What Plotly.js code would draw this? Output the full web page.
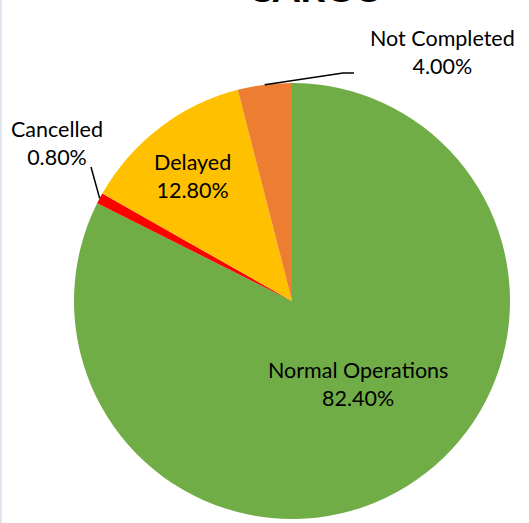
<!DOCTYPE html>
<html>
<head>
<meta charset="utf-8">
<script src="https://cdn.plot.ly/plotly-3.0.1.min.js"></script>
<style>html,body{margin:0;padding:0;background:#fff;}#chart{width:529px;height:523px;}</style>
</head>
<body>
<div id="chart"></div>
<script>
var chartTitle = "CARGO";
var categories = ["Normal Operations", "Cancelled", "Delayed", "Not Completed"];
var values = [82.4, 0.8, 12.8, 4.0];
var colors = ["#70AD47", "#FF0000", "#FFC000", "#ED7D31"];
var pctLabels = ["82.40%", "0.80%", "12.80%", "4.00%"];

var W = 529, H = 523;
var cx = 292, cy = 301, R = 218;
var FONT = "Lato, 'Open Sans', sans-serif";

function px(x){ return x / W; }
function py(y){ return 1 - y / H; }

// compute slice mid-angles (clockwise from 12 o'clock) from data
var total = values.reduce(function(a,b){return a+b;},0);
var mids = [], acc = 0;
values.forEach(function(v){ mids.push((acc + v/2)/total*2*Math.PI); acc += v; });
function edge(i, rr){ return [cx + rr*Math.sin(mids[i]), cy - rr*Math.cos(mids[i])]; }

var trace = {
  type: "pie",
  labels: categories,
  values: values,
  sort: false,
  direction: "clockwise",
  rotation: 0,
  marker: {colors: colors, line: {width: 0}},
  textinfo: "none",
  hoverinfo: "label+percent",
  showlegend: false,
  domain: {x: [px(cx-R), px(cx+R)], y: [py(cy+R), py(cy-R)]}
};

// label positions (text centres)
var labelPos = {
  0: [358, 384],
  1: [57, 143],
  2: [192, 176],
  3: [442, 52]
};
var annotations = [];
Object.keys(labelPos).forEach(function(k){
  var p = labelPos[k];
  annotations.push({
    xref: "paper", yref: "paper", x: px(p[0]), y: py(p[1]),
    xanchor: "center", yanchor: "middle", showarrow: false,
    text: categories[k] + "<br>" + pctLabels[k],
    font: {family: FONT, size: 21.5, color: "#000"}
  });
});
annotations.push({
  xref: "paper", yref: "paper", x: px(315), y: py(-13.5),
  xanchor: "center", yanchor: "middle", showarrow: false,
  text: "<b>" + chartTitle + "</b>",
  font: {family: FONT, size: 39, color: "#000"}
});

var e3 = edge(3, R), e1 = edge(1, R);
var shapes = [
  {type: "path", xref: "paper", yref: "paper",
   path: "M " + px(e3[0]) + " " + py(e3[1]) + " L " + px(343) + " " + py(73) + " L " + px(354) + " " + py(73),
   line: {color: "#000", width: 1.5}},
  {type: "line", xref: "paper", yref: "paper",
   x0: px(e1[0]), y0: py(e1[1]), x1: px(91), y1: py(167),
   line: {color: "#000", width: 1.5}},
  {type: "line", xref: "paper", yref: "paper",
   x0: px(1), y0: 0, x1: px(1), y1: 1,
   line: {color: "#D6DEEA", width: 1.5}}
];

var layout = {
  width: W, height: H,
  margin: {l: 0, r: 0, t: 0, b: 0},
  paper_bgcolor: "#fff",
  annotations: annotations,
  shapes: shapes,
  font: {family: FONT}
};

Plotly.newPlot("chart", [trace], layout, {displayModeBar: false, staticPlot: true});
</script>
</body>
</html>
